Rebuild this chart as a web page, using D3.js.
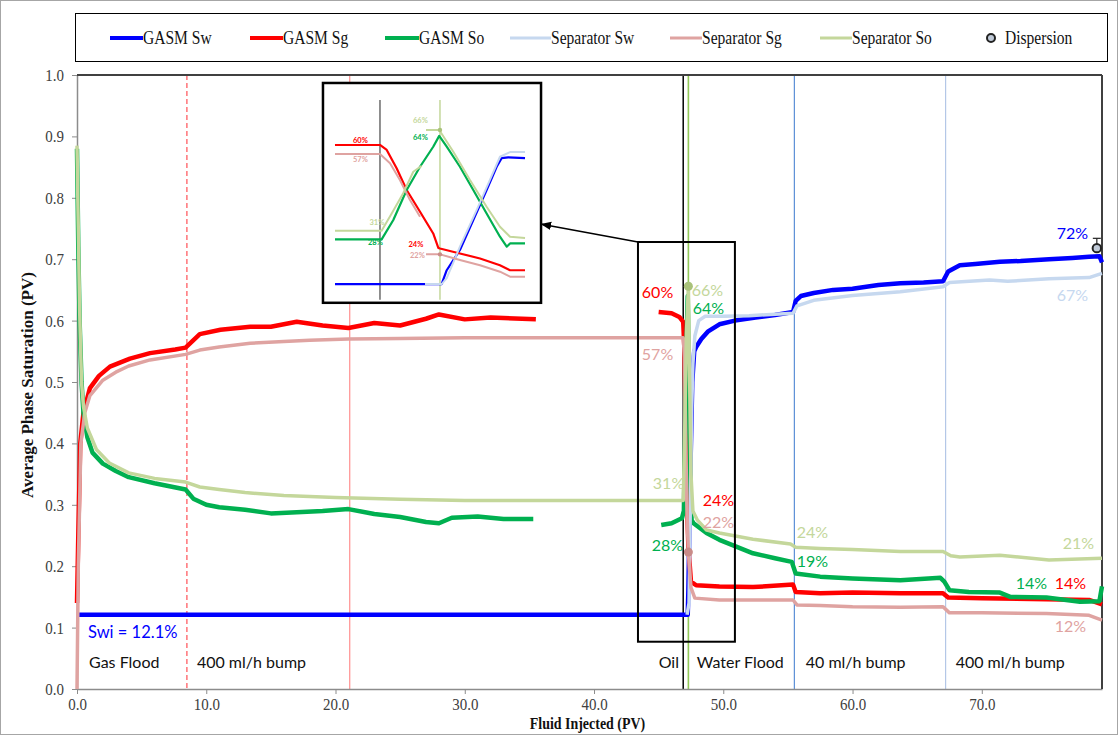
<!DOCTYPE html>
<html>
<head>
<meta charset="utf-8">
<script src="https://cdnjs.cloudflare.com/ajax/libs/d3/7.8.5/d3.min.js"></script>
<style>
  body { margin: 0; background: #fff; }
  .serif { font-family: "Liberation Serif", "Times New Roman", serif; }
  .sans { font-family: Lato, "Open Sans", sans-serif; }
</style>
</head>
<body>
<div id="chart"></div>
<script>
// ---- data (x = fluid injected PV, y = saturation fraction); null breaks a line
const gasmSw = [[0,0.121],[47.25,0.121],[47.3,0.16],[47.45,0.35],[47.6,0.50],[47.75,0.55],[47.9,0.557],[48.3,0.570],[48.8,0.582],[49.7,0.594],[50.9,0.600],[52.5,0.605],[54,0.609],[55.4,0.614],[55.6,0.632],[56.0,0.640],[57,0.645],[58.5,0.650],[60,0.652],[62,0.658],[63.7,0.661],[65.5,0.662],[67.0,0.664],[67.4,0.680],[68.3,0.690],[69.5,0.692],[71.4,0.696],[73,0.697],[75.2,0.700],[77,0.702],[78.3,0.704],[79.1,0.705],[79.3,0.695]];
const gasmSg = [[0,0.14],[0.1,0.25],[0.25,0.40],[0.5,0.45],[1.0,0.49],[1.7,0.51],[2.55,0.525],[4.1,0.538],[5.65,0.547],[7.6,0.553],[8.4,0.556],[9.5,0.578],[11.1,0.585],[13.4,0.59],[15,0.59],[17,0.598],[19,0.592],[21,0.588],[23,0.596],[25,0.592],[27,0.603],[28,0.61],[30,0.602],[32,0.605],[35.5,0.602],null,[45.0,0.614],[46.0,0.612],[46.6,0.606],[46.9,0.598],[47.0,0.55],[47.1,0.42],[47.2,0.30],[47.3,0.232],[47.5,0.175],[47.9,0.169],[49.7,0.167],[52.3,0.166],[55.4,0.170],[55.6,0.158],[57.5,0.156],[60,0.157],[63.7,0.156],[67.0,0.156],[67.4,0.149],[70,0.148],[75,0.146],[78.3,0.145],[79.3,0.138]];
const gasmSo = [[0,0.88],[0.1,0.72],[0.2,0.60],[0.35,0.50],[0.5,0.45],[0.8,0.41],[1.2,0.385],[2,0.367],[3,0.355],[4,0.345],[6,0.335],[8.4,0.325],[9,0.31],[10,0.300],[11,0.296],[13,0.292],[15,0.286],[17,0.288],[19,0.29],[21,0.293],[23,0.285],[25,0.28],[27,0.272],[28,0.27],[29,0.279],[31,0.281],[33,0.277],[35.3,0.277],null,[45.2,0.267],[46.0,0.270],[46.8,0.278],[46.95,0.29],[47.05,0.42],[47.15,0.56],[47.25,0.64],[47.35,0.50],[47.45,0.33],[47.55,0.275],[47.7,0.270],[48.7,0.254],[49.7,0.243],[51,0.232],[52.3,0.221],[54,0.213],[55.3,0.207],[55.6,0.188],[57.5,0.183],[60,0.18],[63.7,0.177],[66.8,0.181],[67.1,0.175],[67.5,0.161],[69,0.158],[71.4,0.157],[72.2,0.150],[75,0.149],[77.6,0.142],[79.1,0.143],[79.3,0.167]];
const sepSw = [[47.2,0.121],[47.35,0.14],[47.45,0.30],[47.55,0.45],[47.65,0.53],[47.8,0.575],[48.1,0.600],[48.6,0.607],[50,0.607],[52,0.608],[55.4,0.612],[55.7,0.624],[57,0.633],[60,0.641],[63.7,0.647],[67.0,0.655],[67.5,0.662],[70.6,0.666],[72,0.664],[75.2,0.668],[78.3,0.670],[79.3,0.677]];
const sepSg = [[0,0.0],[0.1,0.2],[0.3,0.40],[0.6,0.45],[1,0.478],[2,0.503],[3,0.516],[4,0.526],[5.65,0.536],[8.4,0.545],[9.5,0.552],[11,0.557],[13.4,0.563],[16,0.566],[18,0.568],[21,0.570],[25,0.571],[30,0.572],[46.9,0.572],[47.0,0.54],[47.1,0.40],[47.2,0.28],[47.3,0.223],[47.5,0.165],[47.8,0.148],[49.7,0.145],[55.4,0.145],[55.7,0.137],[57.5,0.136],[60,0.134],[63.7,0.133],[67.0,0.134],[67.5,0.124],[70,0.124],[75,0.123],[78.3,0.120],[79.3,0.112]];
const sepSo = [[0,0.885],[0.1,0.75],[0.2,0.62],[0.35,0.50],[0.5,0.46],[0.8,0.425],[1.5,0.39],[2.5,0.368],[4,0.352],[6,0.343],[8.4,0.337],[9.5,0.329],[11,0.325],[13,0.32],[16,0.315],[20,0.312],[25,0.309],[30,0.307],[46.9,0.307],[47.0,0.40],[47.15,0.58],[47.3,0.656],[47.4,0.50],[47.5,0.35],[47.65,0.29],[48.0,0.275],[48.7,0.259],[49.7,0.254],[52.3,0.244],[55.2,0.236],[55.6,0.231],[57.5,0.229],[60,0.227],[63.7,0.224],[67.0,0.224],[67.6,0.217],[68.3,0.215],[71.4,0.218],[75.2,0.21],[79.3,0.213]];

// separator end-of-gas / start-of-water points
const sepSoPoint = [47.3, 0.656];
const sepSgPoint = [47.3, 0.223];

// dispersion result
const dispersionX = [78.9];
const dispersionY = [0.718];
const dispersionErr = [0.016];

// inset (zoom on the oil / water flood transition)
const insetSw = [[46.6,0.127],[47.311,0.127],[47.345,0.174],[47.433,0.243],[47.522,0.345],[47.611,0.447],[47.678,0.526],[47.711,0.555],[47.755,0.558],[47.867,0.555]];
const insetSg = [[46.6,0.600],[46.9,0.600],[46.945,0.583],[47.011,0.521],[47.078,0.447],[47.167,0.373],[47.255,0.299],[47.289,0.250],[47.3,0.248],[47.433,0.231],[47.567,0.214],[47.7,0.191],[47.767,0.174],[47.867,0.174]];
const insetSo = [[46.6,0.279],[46.911,0.279],[46.989,0.345],[47.078,0.447],[47.167,0.526],[47.255,0.594],[47.295,0.631],[47.345,0.594],[47.433,0.526],[47.522,0.447],[47.611,0.367],[47.7,0.288],[47.745,0.254],[47.767,0.265],[47.867,0.265]];
const insetSepSw = [[47.2,0.127],[47.311,0.127],[47.345,0.147],[47.433,0.254],[47.545,0.379],[47.633,0.481],[47.7,0.56],[47.767,0.576],[47.867,0.576]];
const insetSepSg = [[46.6,0.569],[46.9,0.569],[46.967,0.538],[47.033,0.481],[47.1,0.413],[47.167,0.356],null,[47.207,0.228],[47.3,0.228],[47.433,0.209],[47.567,0.191],[47.7,0.169],[47.767,0.152],[47.867,0.152]];
const insetSepSo = [[46.6,0.308],[46.911,0.308],[46.978,0.367],[47.055,0.436],[47.122,0.509],[47.178,0.529],null,[47.207,0.651],[47.295,0.651],[47.389,0.577],[47.5,0.481],[47.611,0.39],[47.7,0.322],[47.767,0.288],[47.867,0.284]];

// event lines (PV)
const eventX = [8.5, 21.1, 46.9, 47.3, 55.5, 67.2];

// stage labels
const stageNames = ["Gas Flood", "400 ml/h bump", "Oil", "Water Flood", "40 ml/h bump", "400 ml/h bump"];
const stageStart = [0.93, 9.28, 45.0, 47.95, 56.38, 67.98];

// end-point labels
const pctText = ["60%","57%","31%","28%","66%","64%","24%","22%","24%","19%","72%","67%","21%","14%","14%","12%"];
const pctX = [43.7,43.7,44.55,44.47,47.56,47.64,48.41,48.41,55.68,55.68,75.79,75.79,76.26,72.62,75.64,75.64];
const pctY = [0.647,0.546,0.336,0.236,0.650,0.622,0.308,0.272,0.256,0.210,0.743,0.642,0.238,0.173,0.173,0.103];
const pctSeries = ["gSg","sSg","sSo","gSo","sSo","gSo","gSg","sSg","sSo","gSo","gSw","sSw","sSo","gSo","gSg","sSg"];

const insetPctText = ["60%","57%","66%","64%","31%","28%","24%","22%"];
const insetPctX = [46.72,46.72,47.12,47.12,46.83,46.82,47.09,47.10];
const insetPctY = [0.615,0.550,0.683,0.624,0.337,0.269,0.261,0.223];
const insetPctSeries = ["gSg","sSg","sSo","gSo","sSo","gSo","gSg","sSg"];

const legendNames = ["GASM Sw","GASM Sg","GASM So","Separator Sw","Separator Sg","Separator So","Dispersion"];

// ---- styles
const colors = { gSw: "#0000ff", gSg: "#ff0000", gSo: "#00b050", sSw: "#c6d8ef", sSg: "#dfa3a1", sSo: "#c4d79b" };

const width = 1118, height = 735;
const margin = { top: 75, right: 16, bottom: 46, left: 77 };

const x = d3.scaleLinear().domain([0, 79.3]).range([margin.left, width - margin.right]);
const y = d3.scaleLinear().domain([0, 1]).range([height - margin.bottom, margin.top]);

const svg = d3.select("#chart").append("svg")
    .attr("width", width)
    .attr("height", height);

svg.append("rect").attr("x", 0.5).attr("y", 0.5).attr("width", width - 1).attr("height", height - 1)
    .attr("fill", "#fff").attr("stroke", "#a6a6a6");

// condense serif text the way the original (narrow Times) looks
function condense(sel, f) {
  sel.each(function() {
    const len = this.getComputedTextLength();
    d3.select(this).attr("textLength", len * f).attr("lengthAdjust", "spacingAndGlyphs");
  });
}

// ---- event lines
const eventStyle = [
  { c: "#ff7c80", w: 1.6, dash: "5,3" },
  { c: "#ff8f8f", w: 1.2, dash: null },
  { c: "#000000", w: 1.5, dash: null },
  { c: "#92c957", w: 1.6, dash: null },
  { c: "#5b8fd6", w: 1.2, dash: null },
  { c: "#b4c7e7", w: 1.2, dash: null }
];
svg.append("g").selectAll("line").data(eventX).enter().append("line")
    .attr("x1", d => x(d)).attr("x2", d => x(d))
    .attr("y1", y(1)).attr("y2", y(0))
    .attr("stroke", (d, i) => eventStyle[i].c)
    .attr("stroke-width", (d, i) => eventStyle[i].w)
    .attr("stroke-dasharray", (d, i) => eventStyle[i].dash);

// ---- axes
const xAxis = svg.append("g")
    .attr("transform", `translate(0, ${y(0)})`)
    .call(d3.axisBottom(x).tickValues(d3.range(0, 71, 10)).tickFormat(d3.format(".1f")).tickSize(5).tickSizeOuter(0).tickPadding(4));
const yAxis = svg.append("g")
    .attr("transform", `translate(${x(0)}, 0)`)
    .call(d3.axisLeft(y).tickValues(d3.range(0, 1.01, 0.1)).tickFormat(d3.format(".1f")).tickSize(5).tickSizeOuter(0).tickPadding(8));
[xAxis, yAxis].forEach(a => {
  a.select(".domain").attr("stroke", "#8c8c8c").attr("stroke-width", 1.5);
  a.selectAll(".tick line").attr("stroke", "#8c8c8c");
  a.selectAll(".tick text").attr("class", "serif").attr("font-size", 17).attr("fill", "#404040").call(condense, 0.88);
});

// top / right frame
svg.append("line").attr("x1", x(0)).attr("x2", x(79.3)).attr("y1", y(1)).attr("y2", y(1)).attr("stroke", "#404040").attr("stroke-width", 2);
svg.append("line").attr("x1", x(79.3)).attr("x2", x(79.3)).attr("y1", y(1)).attr("y2", y(0)).attr("stroke", "#404040").attr("stroke-width", 2);

// axis titles
svg.append("text").attr("class", "serif")
    .attr("x", (x(0) + x(79.3)) / 2 - 2).attr("y", 729)
    .attr("text-anchor", "middle").attr("font-size", 17).attr("font-weight", "bold").attr("fill", "#111")
    .text("Fluid Injected (PV)").call(condense, 0.82);
svg.append("text").attr("class", "serif")
    .attr("transform", `translate(33, ${(y(0) + y(1)) / 2 + 3}) rotate(-90)`)
    .attr("text-anchor", "middle").attr("font-size", 17).attr("font-weight", "bold").attr("fill", "#111")
    .text("Average Phase Saturation (PV)").call(condense, 1.0);

// ---- series
const line = d3.line().defined(d => d !== null).x(d => x(d[0])).y(d => y(d[1]));
const series = [
  { d: gasmSw, c: colors.gSw, w: 4.5 },
  { d: gasmSg, c: colors.gSg, w: 4.5 },
  { d: gasmSo, c: colors.gSo, w: 4.5 },
  { d: sepSw, c: colors.sSw, w: 3.5 },
  { d: sepSg, c: colors.sSg, w: 3.5 },
  { d: sepSo, c: colors.sSo, w: 3.5 }
];
svg.append("g").selectAll("path").data(series).enter().append("path")
    .attr("d", s => line(s.d))
    .attr("fill", "none")
    .attr("stroke", s => s.c)
    .attr("stroke-width", s => s.w)
    .attr("stroke-linejoin", "round");

svg.append("circle").attr("cx", x(sepSoPoint[0])).attr("cy", y(sepSoPoint[1])).attr("r", 4.5).attr("fill", "#a9c27a");
svg.append("circle").attr("cx", x(sepSgPoint[0])).attr("cy", y(sepSgPoint[1])).attr("r", 4.5).attr("fill", "#c98b88");

// dispersion with error bar
const disp = svg.append("g");
dispersionX.forEach((dx, i) => {
  disp.append("line").attr("x1", x(dx)).attr("x2", x(dx))
      .attr("y1", y(dispersionY[i])).attr("y2", y(dispersionY[i] + dispersionErr[i])).attr("stroke", "#222").attr("stroke-width", 1.2);
  disp.append("line").attr("x1", x(dx) - 4).attr("x2", x(dx) + 4)
      .attr("y1", y(dispersionY[i] + dispersionErr[i])).attr("y2", y(dispersionY[i] + dispersionErr[i])).attr("stroke", "#222").attr("stroke-width", 1.2);
  disp.append("circle").attr("cx", x(dx)).attr("cy", y(dispersionY[i])).attr("r", 4.2)
      .attr("fill", "#c0cad8").attr("stroke", "#222").attr("stroke-width", 2);
});

// ---- text labels
svg.append("g").selectAll("text").data(pctText).enter().append("text")
    .attr("class", "sans").attr("font-size", 16)
    .attr("x", (d, i) => x(pctX[i])).attr("y", (d, i) => y(pctY[i]))
    .attr("dominant-baseline", "central")
    .attr("fill", (d, i) => colors[pctSeries[i]])
    .text(d => d);

svg.append("text").attr("class", "sans").attr("font-size", 16.5).attr("fill", colors.gSw)
    .attr("x", x(0.85)).attr("y", y(0.093)).attr("dominant-baseline", "central").text("Swi = 12.1%");

svg.append("g").selectAll("text").data(stageNames).enter().append("text")
    .attr("class", "sans").attr("font-size", 16).attr("fill", "#111")
    .attr("x", (d, i) => x(stageStart[i])).attr("y", y(0.044))
    .attr("dominant-baseline", "central")
    .text(d => d);

// ---- highlight box + arrow to inset
svg.append("rect")
    .attr("x", x(43.4)).attr("y", y(0.728))
    .attr("width", x(50.9) - x(43.4)).attr("height", y(0.077) - y(0.728))
    .attr("fill", "none").attr("stroke", "#000").attr("stroke-width", 2);

svg.append("defs").append("marker")
    .attr("id", "arrow").attr("viewBox", "0 0 10 10").attr("refX", 9).attr("refY", 5)
    .attr("markerWidth", 7).attr("markerHeight", 7).attr("orient", "auto")
    .append("path").attr("d", "M0,1 L10,5 L0,9 z").attr("fill", "#000");
svg.append("line")
    .attr("x1", x(43.4)).attr("y1", y(0.728))
    .attr("x2", x(35.95)).attr("y2", y(0.757))
    .attr("stroke", "#000").attr("stroke-width", 1.5).attr("marker-end", "url(#arrow)");

// ---- inset
const bx0 = x(19.03), bx1 = x(35.9), by0 = y(0.987), by1 = y(0.629);
const inset = svg.append("g");
inset.append("rect").attr("x", bx0).attr("y", by0).attr("width", bx1 - bx0).attr("height", by1 - by0)
    .attr("fill", "#fff").attr("stroke", "#000").attr("stroke-width", 2.5);

const ix = d3.scaleLinear().domain([46.6, 47.9]).range([bx0 + 12, bx0 + 207]);
const iy = d3.scaleLinear().domain([0.1, 0.7]).range([by0 + 209, by0 + 32.6]);

inset.append("line").attr("x1", ix(46.9)).attr("x2", ix(46.9)).attr("y1", by0 + 17).attr("y2", by1 - 3)
    .attr("stroke", "#6b6b6b").attr("stroke-width", 1.5);
inset.append("line").attr("x1", ix(47.3)).attr("x2", ix(47.3)).attr("y1", by0 + 17).attr("y2", by1 - 3)
    .attr("stroke", colors.sSo).attr("stroke-width", 1.5);

const iline = d3.line().defined(d => d !== null).x(d => ix(d[0])).y(d => iy(d[1]));
const insetSeries = [
  { d: insetSw, c: colors.gSw, w: 2.2 },
  { d: insetSg, c: colors.gSg, w: 2.2 },
  { d: insetSo, c: colors.gSo, w: 2.2 },
  { d: insetSepSw, c: colors.sSw, w: 2 },
  { d: insetSepSg, c: colors.sSg, w: 2 },
  { d: insetSepSo, c: colors.sSo, w: 2 }
];
inset.append("g").selectAll("path").data(insetSeries).enter().append("path")
    .attr("d", s => iline(s.d)).attr("fill", "none")
    .attr("stroke", s => s.c).attr("stroke-width", s => s.w).attr("stroke-linejoin", "round");
inset.append("circle").attr("cx", ix(sepSoPoint[0])).attr("cy", iy(0.651)).attr("r", 2.2).attr("fill", "#a9c27a");
inset.append("circle").attr("cx", ix(sepSgPoint[0])).attr("cy", iy(0.228)).attr("r", 2.2).attr("fill", "#c98b88");

inset.append("g").selectAll("text").data(insetPctText).enter().append("text")
    .attr("class", "sans").attr("font-size", 7.5).attr("font-weight", "bold")
    .attr("x", (d, i) => ix(insetPctX[i])).attr("y", (d, i) => iy(insetPctY[i]))
    .attr("dominant-baseline", "central")
    .attr("fill", (d, i) => colors[insetPctSeries[i]])
    .text(d => d);

// ---- legend
const lg = svg.append("g");
lg.append("rect").attr("x", 75.5).attr("y", 13.5).attr("width", 1032).attr("height", 48)
    .attr("fill", "#fff").attr("stroke", "#000").attr("stroke-width", 1);
const legendX = [110, 250, 385, 510, 670, 820, 983];
const legendTextX = [143, 283, 419, 551, 702, 852, 1005];
const legendKeys = ["gSw", "gSg", "gSo", "sSw", "sSg", "sSo"];
legendNames.forEach((name, i) => {
  if (i < 6) {
    lg.append("line").attr("x1", legendX[i]).attr("x2", legendTextX[i])
        .attr("y1", 38).attr("y2", 38)
        .attr("stroke", colors[legendKeys[i]]).attr("stroke-width", i < 3 ? 4 : 3);
  } else {
    lg.append("circle").attr("cx", legendX[i] + 8).attr("cy", 38).attr("r", 4)
        .attr("fill", "#c0cad8").attr("stroke", "#222").attr("stroke-width", 2);
  }
  lg.append("text").attr("class", "serif").attr("font-size", 18.5).attr("fill", "#111")
      .attr("x", legendTextX[i]).attr("y", 44).text(name).call(condense, 0.84);
});
</script>
</body>
</html>
